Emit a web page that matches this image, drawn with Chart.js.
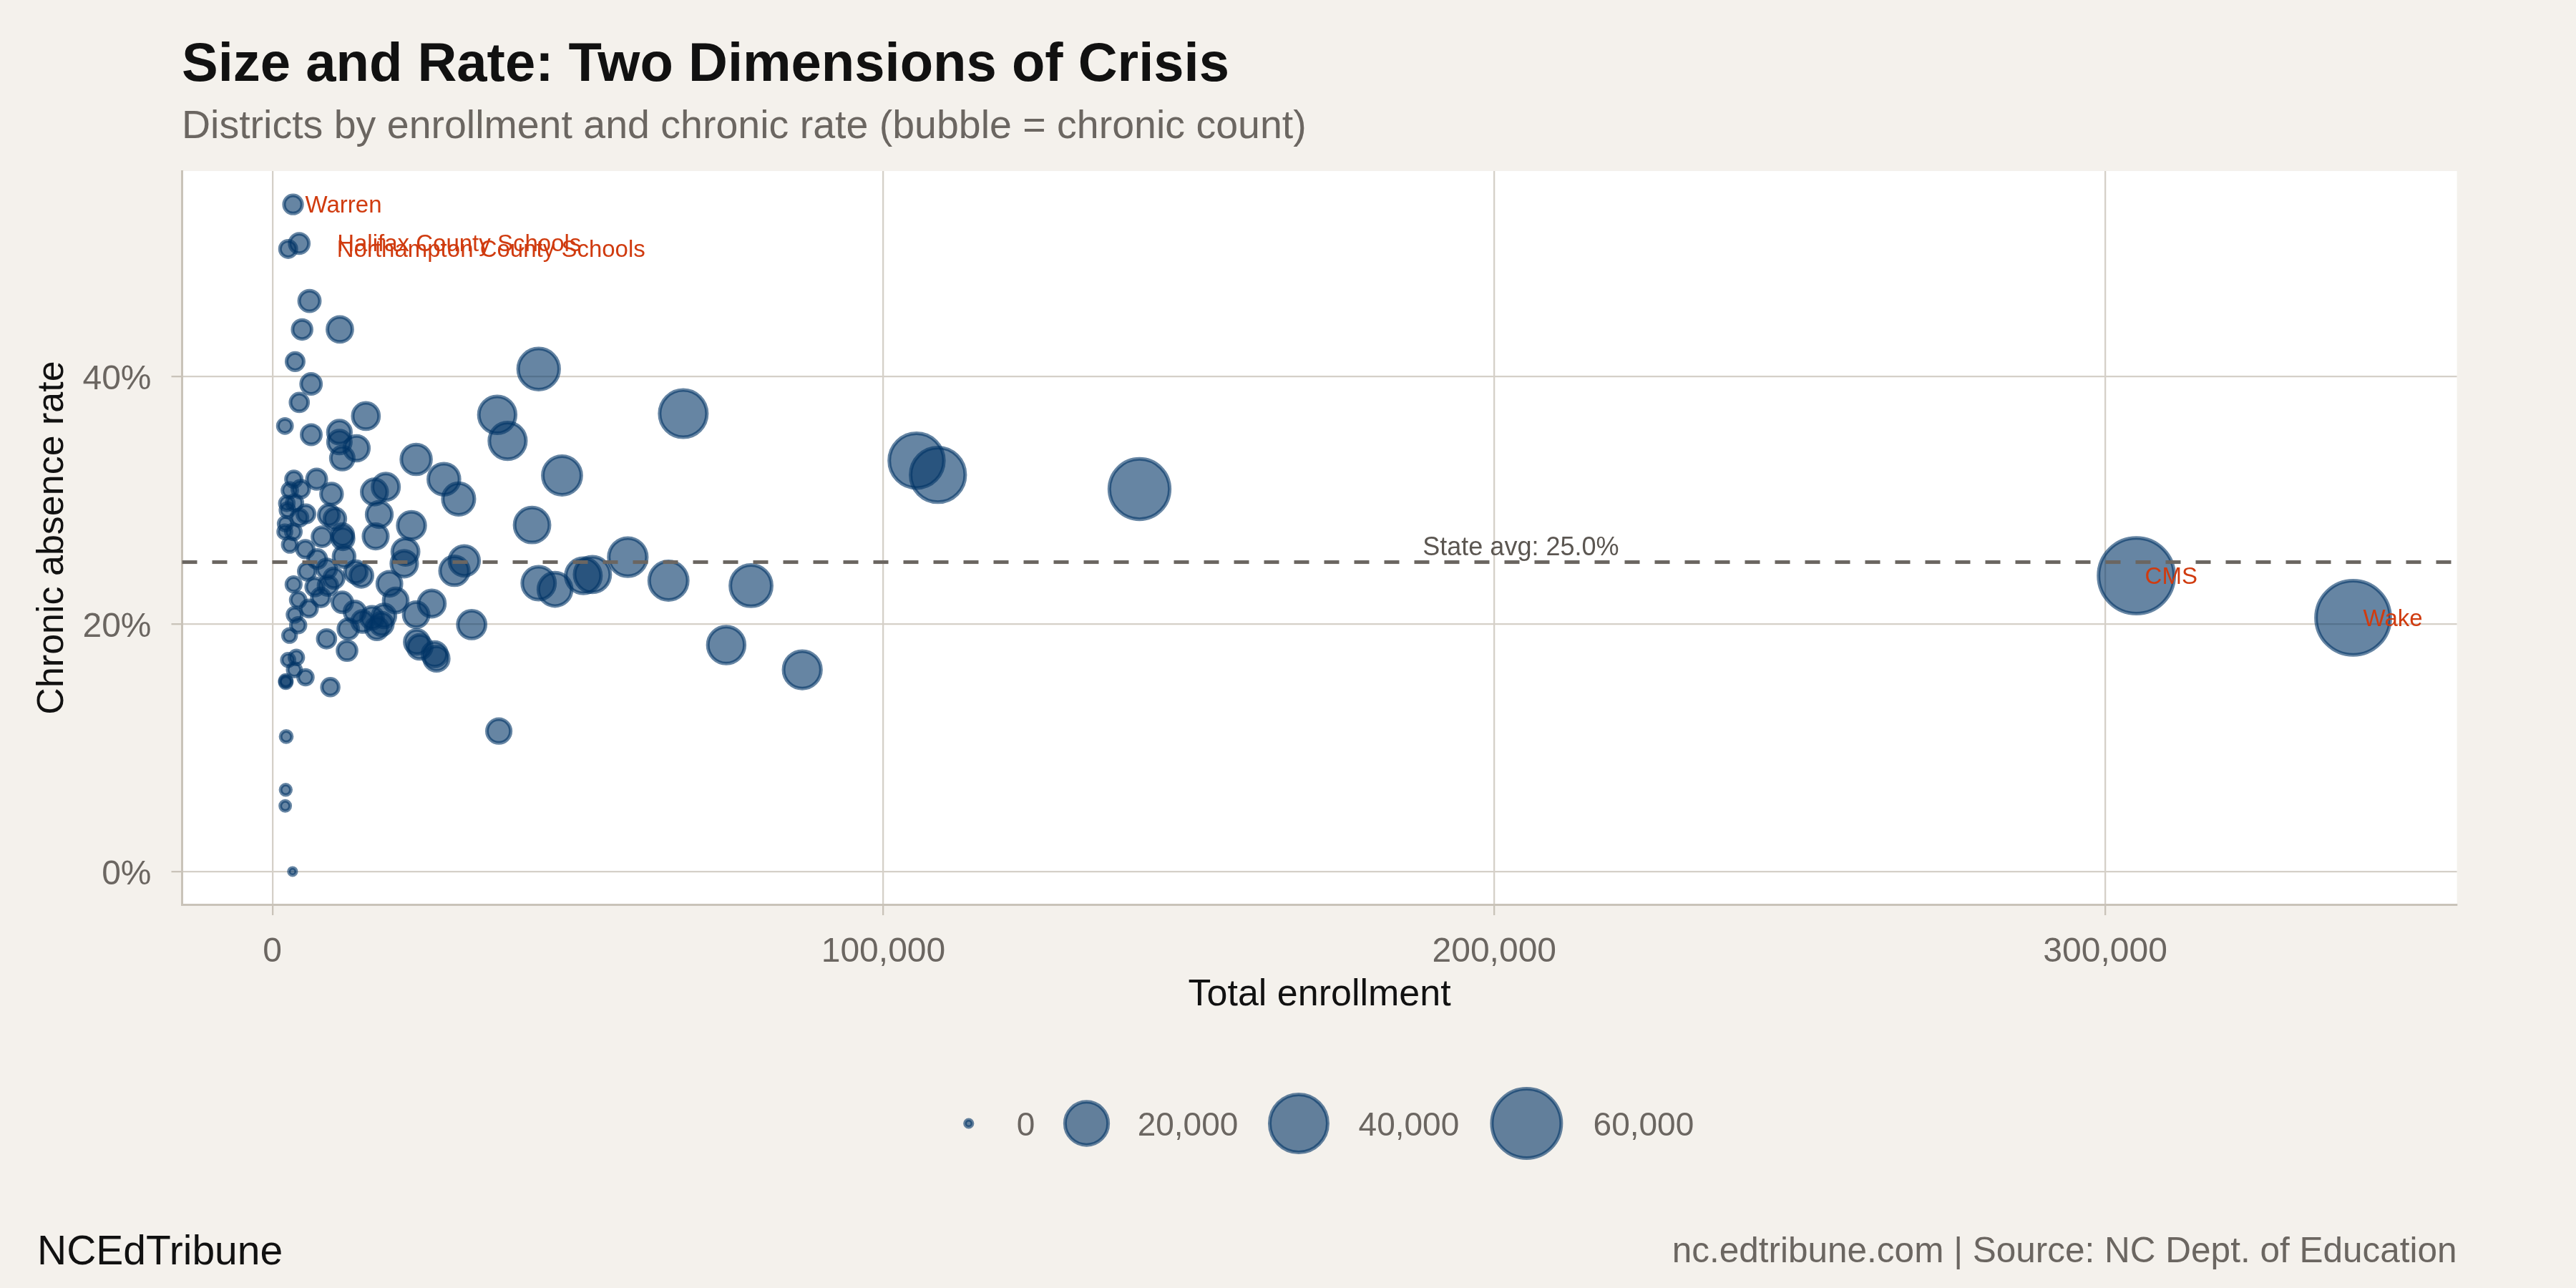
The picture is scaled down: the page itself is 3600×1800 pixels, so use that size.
<!DOCTYPE html>
<html>
<head>
<meta charset="utf-8">
<script src="https://cdn.jsdelivr.net/npm/chart.js@4.4.0/dist/chart.umd.min.js"></script>
<style>
  html, body { margin:0; background:#f4f1ec; }
  canvas { display:block; }
</style>
</head>
<body>
<canvas id="chart" width="3600" height="1800" style="width:3600px;height:1800px"></canvas>
<script>
// labelled districts come first in the arrays
const labelNames = ['Warren', 'Halifax County Schools', 'Northampton County Schools', 'CMS', 'Wake'];
const enrollment = [
  3380, 4390, 2580, 305100, 340580,
  6070, 4860, 11040, 3720, 43580, 6330, 4400, 67250, 36800, 15300,
  2050, 6360, 10970, 10970, 13780, 11440, 38500, 23530, 105440, 108930,
  47410, 28070, 141930, 30480, 3510, 7240, 4640, 2850, 9680, 16700,
  18560, 2360, 2460, 3630, 5480, 4410, 9250, 10230, 17490, 2120,
  42500, 22760, 2030, 3430, 8120, 11480, 11540, 16900, 2850, 5390,
  21780, 58170, 7340, 11730, 21580, 31400, 29800, 5680, 8900, 10070,
  9090, 6950, 3470, 14560, 13660, 64830, 78340, 43580, 46260, 50900,
  52380, 19150, 4220, 7920, 11440, 20180, 26080, 5970, 13500, 3630,
  18270, 23530, 16310, 14750, 4220, 32620, 12410, 17100, 17880, 2810,
  8860, 23630, 24120, 74280, 12220, 26560, 26860, 2580, 3920, 86730,
  3590, 5420, 2190, 2190, 9480, 37060, 2260, 2180, 2100, 3300
];
const chronicRate = [
  0.539, 0.5075, 0.503, 0.239, 0.205,
  0.461, 0.438, 0.438, 0.412, 0.406, 0.394, 0.379, 0.370, 0.369, 0.368,
  0.360, 0.353, 0.355, 0.347, 0.342, 0.334, 0.348, 0.333, 0.332, 0.3205,
  0.320, 0.317, 0.309, 0.301, 0.317, 0.317, 0.309, 0.308, 0.305, 0.3067,
  0.3108, 0.2975, 0.292, 0.298, 0.289, 0.286, 0.288, 0.285, 0.2885, 0.281,
  0.280, 0.2796, 0.2745, 0.2745, 0.2705, 0.272, 0.269, 0.2708, 0.264, 0.2605,
  0.2584, 0.254, 0.2525, 0.2545, 0.2487, 0.251, 0.243, 0.2425, 0.2445, 0.237,
  0.231, 0.230, 0.232, 0.239, 0.242, 0.235, 0.231, 0.233, 0.228, 0.239,
  0.240, 0.2325, 0.2195, 0.2215, 0.2175, 0.219, 0.2165, 0.2125, 0.2098, 0.2075,
  0.2065, 0.2075, 0.205, 0.202, 0.199, 0.1995, 0.196, 0.1965, 0.200, 0.1907,
  0.188, 0.1855, 0.1815, 0.183, 0.1785, 0.1755, 0.172, 0.171, 0.173, 0.163,
  0.163, 0.157, 0.153, 0.154, 0.149, 0.1135, 0.109, 0.066, 0.053, 0.000
];
const xTickValues = [0, 100000, 200000, 300000];
const yTickValues = [0, 0.2, 0.4];
const legendCounts = [0, 20000, 40000, 60000];
const stateAvg = 0.25;

const FONT = '"Liberation Sans", Arial, Helvetica, sans-serif';
const BLUE = 'rgba(0,51,102,0.6)';
const GREY = '#6b6661';
const INK = '#111111';
const RED = '#d03b0f';
const GRID = '#d5d0c8';
const AXIS = '#c9c3b9';
const BORDER_W = 5;
const labelNudge = [17, 53, 68, 12, 14];

// area-style size scale: visible radius grows with sqrt(chronic count)
function bubbleRadius(count){ return 7.6 + 0.177 * Math.sqrt(count) - BORDER_W / 2; }
const fmtInt = v => Number(v).toLocaleString('en-US');
const fmtPct = v => Math.round(v * 100) + '%';

const points = enrollment.map((e, i) => ({x:e, y:chronicRate[i], r:bubbleRadius(e * chronicRate[i])}));

function circle(ctx, x, y, r){
  ctx.beginPath();
  ctx.arc(x, y, r, 0, Math.PI * 2);
  ctx.fillStyle = BLUE; ctx.fill();
  ctx.lineWidth = BORDER_W; ctx.strokeStyle = BLUE; ctx.stroke();
}

const backdrop = {
  id:'backdrop',
  beforeDraw(chart){
    const {ctx, chartArea:a} = chart;
    ctx.save();
    ctx.fillStyle = '#f4f1ec'; ctx.fillRect(0, 0, chart.width, chart.height);
    ctx.fillStyle = '#ffffff'; ctx.fillRect(a.left, a.top, a.right - a.left, a.bottom - a.top);
    ctx.restore();
  }
};

const overlay = {
  id:'overlay',
  afterDatasetsDraw(chart){
    const {ctx, chartArea:a, scales:{x, y}} = chart;
    const yAvg = y.getPixelForValue(stateAvg);
    ctx.save();
    ctx.setLineDash([21, 21]);
    ctx.lineWidth = 5; ctx.strokeStyle = GREY;
    ctx.beginPath(); ctx.moveTo(a.left, yAvg); ctx.lineTo(a.right, yAvg); ctx.stroke();
    ctx.setLineDash([]);
    ctx.font = `36px ${FONT}`; ctx.fillStyle = '#5b5651';
    ctx.textAlign = 'center'; ctx.textBaseline = 'alphabetic';
    ctx.fillText(`State avg: ${(stateAvg * 100).toFixed(1)}%`, x.getPixelForValue(Math.max(...enrollment) * 0.6), yAvg - 10);
    ctx.font = `33px ${FONT}`; ctx.fillStyle = RED;
    ctx.textAlign = 'left'; ctx.textBaseline = 'middle';
    labelNames.forEach((name, i) => {
      ctx.fillText(name, x.getPixelForValue(enrollment[i]) + labelNudge[i], y.getPixelForValue(chronicRate[i]) + 2);
    });
    ctx.restore();
  }
};

const chrome = {
  id:'chrome',
  afterDraw(chart){
    const {ctx} = chart;
    ctx.save();
    ctx.textAlign = 'left'; ctx.textBaseline = 'alphabetic';
    ctx.fillStyle = INK; ctx.font = `bold 76px ${FONT}`;
    ctx.fillText('Size and Rate: Two Dimensions of Crisis', 254, 113);
    ctx.fillStyle = GREY; ctx.font = `55.5px ${FONT}`;
    ctx.fillText('Districts by enrollment and chronic rate (bubble = chronic count)', 254, 193);

    // size legend
    ctx.font = `46px ${FONT}`; ctx.textBaseline = 'middle';
    const items = legendCounts.map(c => {
      const r = bubbleRadius(c);
      const half = Math.max(1.2 * (r + BORDER_W / 2) + 20, 55);
      return {c, r, half, text:fmtInt(c), tw:ctx.measureText(fmtInt(c)).width};
    });
    const total = items.reduce((s, it) => s + 2 * it.half + 12 + it.tw, 0) + 13 * (items.length - 1);
    let lx = 1833 - total / 2;
    const ly = 1570;
    items.forEach(it => {
      circle(ctx, lx + it.half, ly, it.r);
      ctx.fillStyle = GREY;
      ctx.fillText(it.text, lx + 2 * it.half + 12, ly + 4);
      lx += 2 * it.half + 12 + it.tw + 13;
    });

    ctx.textBaseline = 'alphabetic';
    ctx.fillStyle = INK; ctx.font = `57px ${FONT}`;
    ctx.fillText('NCEdTribune', 52, 1767);
    ctx.textAlign = 'right'; ctx.fillStyle = GREY; ctx.font = `49.5px ${FONT}`;
    ctx.fillText('nc.edtribune.com | Source: NC Dept. of Education', 3433.6, 1764);
    ctx.restore();
  }
};

new Chart(document.getElementById('chart'), {
  type:'bubble',
  data:{datasets:[{data:points, backgroundColor:BLUE, borderColor:BLUE, borderWidth:BORDER_W}]},
  options:{
    responsive:false, devicePixelRatio:1, animation:false, events:[],
    layout:{padding:{left:0, top:239, right:166.4, bottom:376}},
    plugins:{legend:{display:false}, tooltip:{enabled:false}},
    scales:{
      x:{
        type:'linear', min:-14780, max:357570,
        afterBuildTicks: s => { s.ticks = xTickValues.map(v => ({value:v})); },
        afterFit: s => { s.height = 160; },
        grid:{color:GRID, lineWidth:2.3, tickLength:15, tickColor:AXIS, tickWidth:2.3},
        border:{display:true, color:AXIS, width:3},
        ticks:{color:GREY, font:{family:FONT, size:48}, padding:23, maxRotation:0, callback:v => fmtInt(v)},
        title:{display:true, text:'Total enrollment', color:INK, font:{family:FONT, size:52}, padding:{top:0, bottom:2}}
      },
      y:{
        type:'linear', min:-0.0266, max:0.566,
        afterBuildTicks: s => { s.ticks = yTickValues.map(v => ({value:v})); },
        afterFit: s => { s.width = 254.5; },
        grid:{color:GRID, lineWidth:2.3, tickLength:15, tickColor:AXIS, tickWidth:2.3},
        border:{display:true, color:AXIS, width:3},
        ticks:{color:GREY, font:{family:FONT, size:48}, padding:28, labelOffset:5, callback:v => fmtPct(v)},
        title:{display:true, text:'Chronic absence rate', color:INK, font:{family:FONT, size:52}, padding:{top:42, bottom:0}}
      }
    }
  },
  plugins:[backdrop, overlay, chrome]
});
</script>
</body>
</html>
